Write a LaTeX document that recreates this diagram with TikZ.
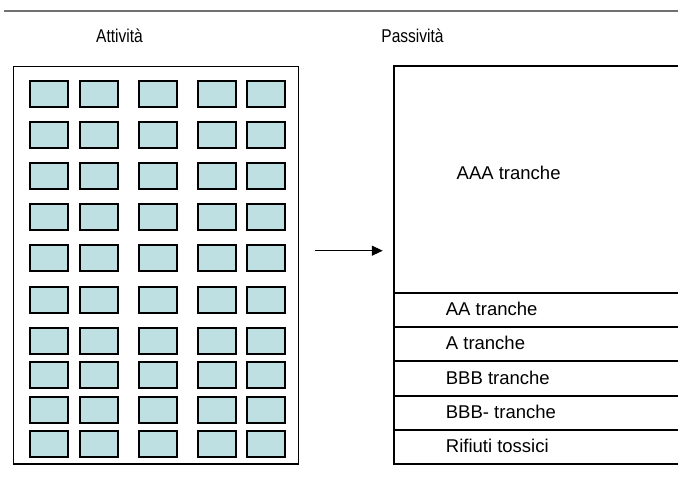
\documentclass[tikz,border=0pt]{standalone}
\usepackage{fontspec}
\setmainfont{Liberation Sans}
\newfontfamily\narrowsans[FakeStretch=0.84]{Liberation Sans}
\usetikzlibrary{arrows.meta}
\definecolor{cellfill}{RGB}{190,224,227}
\definecolor{rulegray}{RGB}{112,112,112}
\begin{document}
\begin{tikzpicture}[x=1pt,y=-1pt,
  every node/.style={font=\fontsize{18.5}{22}\selectfont},
  cell/.style={draw=black,line width=2.1pt,fill=cellfill,
    minimum width=38pt,minimum height=25.8pt,inner sep=0pt,anchor=north west},
  frame/.style={draw=black,line width=1.7pt,inner sep=0pt,anchor=north west},
  tranche/.style={draw=black,line width=2pt,inner sep=0pt,anchor=north west,
    minimum width=284.8pt},
  label/.style={anchor=base west,inner sep=0pt},
  title/.style={anchor=base,inner sep=0pt,font=\fontsize{18.5}{22}\narrowsans}]
  \useasboundingbox (0,0) rectangle (678,487);

  % top rule
  \draw[rulegray,line width=2.2pt] (4,11) -- (680,11);

  % titles
  \node[title] (tAtt) at (119.5,42.7) {Attività};
  \node[title] (tPas) at (412.5,42.7) {Passività};

  % asset pool frame
  \node[frame,minimum width=285pt,minimum height=397.3pt] (lbox) at (12.75,65.75) {};

  % asset cells
  \foreach \c/\x in {1/28.3,2/78,3/137,4/196,5/245.3}{
    \foreach \r/\y in {1/79,2/120,3/161,4/202.3,5/243.3,6/284.7,7/325.7,8/360,9/394.7,10/429}{
      \node[cell] (c-\r-\c) at (\x+1,\y+1) {};
    }
  }

  % liability tranches
  \node[tranche,minimum height=226.7pt] (tAAA) at (392.75,65) {};
  \node[tranche,minimum height=34.3pt] (tAA) at (392.75,291.7) {};
  \node[tranche,minimum height=34pt] (tA) at (392.75,326) {};
  \node[tranche,minimum height=35pt] (tBBB) at (392.75,360) {};
  \node[tranche,minimum height=34.3pt] (tBBBm) at (392.75,395) {};
  \node[tranche,minimum height=33.4pt] (tRif) at (392.75,429.3) {};

  \node[label] (lAAA) at (456.5,179.3) {AAA tranche};
  \node[label] (lAA) at (445.7,315.6) {AA tranche};
  \node[label] (lA) at (445.7,349.4) {A tranche};
  \node[label] (lBBB) at (445.7,384.2) {BBB tranche};
  \node[label] (lBBBm) at (445.7,418.8) {BBB- tranche};
  \node[label] (lRif) at (445.7,452.8) {Rifiuti tossici};

  % securitisation arrow
  \coordinate (aS) at ([xshift=16pt]lbox.east |- 0,250.7);
  \coordinate (aE) at ([xshift=-10pt]tAAA.west |- 0,250.7);
  \draw[line width=1.3pt,-{Triangle[length=11pt,width=10pt]}] (aS) -- (aE);
\end{tikzpicture}
\end{document}
